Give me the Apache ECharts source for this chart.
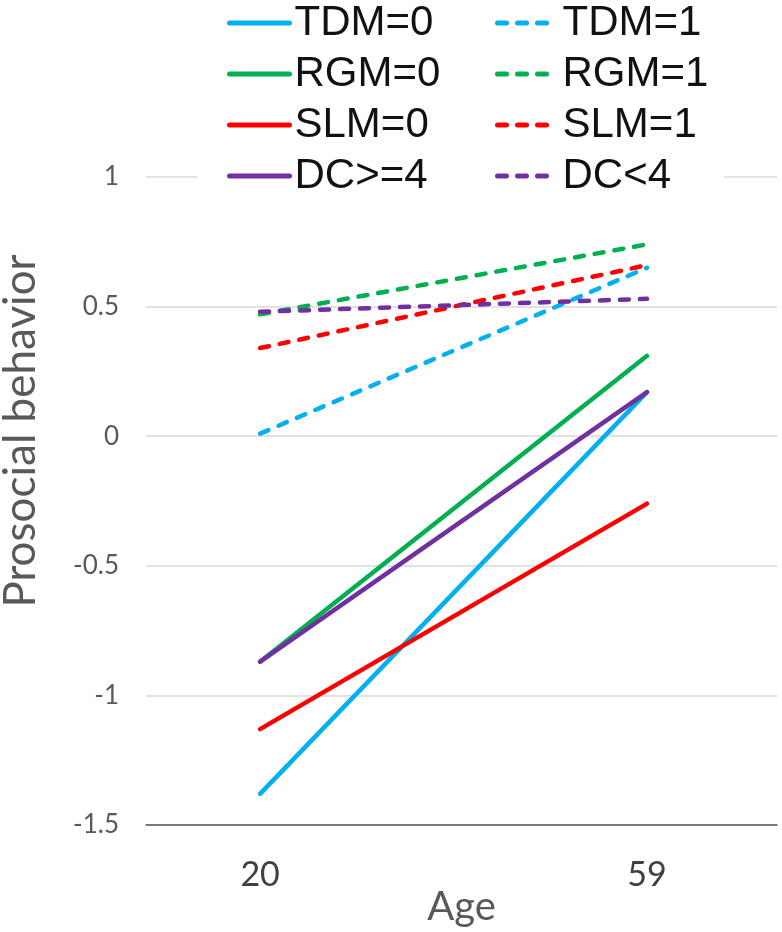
<!DOCTYPE html>
<html>
<head>
<meta charset="utf-8">
<script src="https://cdn.jsdelivr.net/npm/echarts@6/dist/echarts.min.js"></script>
<style>
  html, body { margin: 0; padding: 0; background: #fff; }
  #chart { width: 782px; height: 932px; }
</style>
</head>
<body>
<div id="chart"></div>
<script>
// ---- data ----
const ages = [20, 59];
const yTicks = [-1.5, -1, -0.5, 0, 0.5, 1];
const seriesNames = ['TDM=0', 'TDM=1', 'RGM=0', 'RGM=1', 'SLM=0', 'SLM=1', 'DC>=4', 'DC<4'];
const tdm0 = [-1.38, 0.17];
const tdm1 = [0.01, 0.65];
const rgm0 = [-0.87, 0.31];
const rgm1 = [0.47, 0.74];
const slm0 = [-1.13, -0.26];
const slm1 = [0.34, 0.66];
const dcGe4 = [-0.87, 0.17];
const dcLt4 = [0.48, 0.53];

const values = [tdm0, tdm1, rgm0, rgm1, slm0, slm1, dcGe4, dcLt4];
const colors = ['#00B0F0', '#00B0F0', '#00B050', '#00B050', '#FF0000', '#FF0000', '#7030A0', '#7030A0'];
const dashed = [false, true, false, true, false, true, false, true];

const series = seriesNames.map((name, i) => ({
  name: name,
  type: 'line',
  data: ages.map((a, j) => [a, values[i][j]]),
  symbol: 'circle',
  showSymbol: false,
  color: colors[i],
  lineStyle: {
    color: colors[i],
    width: 4.5,
    cap: 'round',
    type: dashed[i] ? [9, 11] : 'solid'
  },
  emphasis: { disabled: true },
  silent: true,
  animation: false
}));

const legendText = { fontFamily: 'Liberation Sans', fontSize: 42, lineHeight: 42, color: '#111' };
const legendCommon = {
  orient: 'vertical',
  top: 0,
  backgroundColor: '#fff',
  itemWidth: 60, itemHeight: 14, itemGap: 9,
  textStyle: legendText,
  itemStyle: { color: 'rgba(0,0,0,0)', borderWidth: 0, opacity: 0 },
  lineStyle: { width: 5, cap: 'round' },
  selectedMode: false
};

const chart = echarts.init(document.getElementById('chart'));
chart.setOption({
  animation: false,
  backgroundColor: '#fff',
  grid: { left: 146, right: 5, top: 177, bottom: 107, containLabel: false, outerBoundsMode: 'none' },
  legend: [
    Object.assign({}, legendCommon, {
      data: seriesNames.filter((n, i) => !dashed[i]),
      left: 197,
      padding: [2, 50, 2, 30]
    }),
    Object.assign({}, legendCommon, {
      data: seriesNames.filter((n, i) => dashed[i]),
      left: 485,
      padding: [2, 16, 2, 10]
    })
  ],
  xAxis: {
    type: 'value',
    min: 8.5, max: 72.1,
    name: 'Age',
    nameLocation: 'middle',
    nameGap: 62,
    nameMoveOverlap: false,
    nameTextStyle: { fontFamily: 'Lato', fontSize: 40, color: '#595959' },
    axisLine: { show: true, onZero: false, lineStyle: { color: '#595959', width: 1.5 } },
    axisTick: { show: false },
    splitLine: { show: false },
    axisLabel: {
      customValues: ages,
      margin: 33,
      fontFamily: 'Lato', fontSize: 34, color: '#404040'
    }
  },
  yAxis: {
    type: 'value',
    min: yTicks[0], max: yTicks[yTicks.length - 1], interval: 0.5,
    name: 'Prosocial behavior',
    nameLocation: 'middle',
    nameGap: 103,
    nameTextStyle: { fontFamily: 'Lato', fontSize: 44, color: '#595959', padding: [0, 0, 0, 140] },
    axisLine: { show: false },
    axisTick: { show: false },
    splitLine: { lineStyle: { color: '#D9D9D9', width: 1.5 } },
    axisLabel: {
      margin: 27,
      fontFamily: 'Lato', fontSize: 26, color: '#595959'
    }
  },
  series: series
});
</script>
</body>
</html>
